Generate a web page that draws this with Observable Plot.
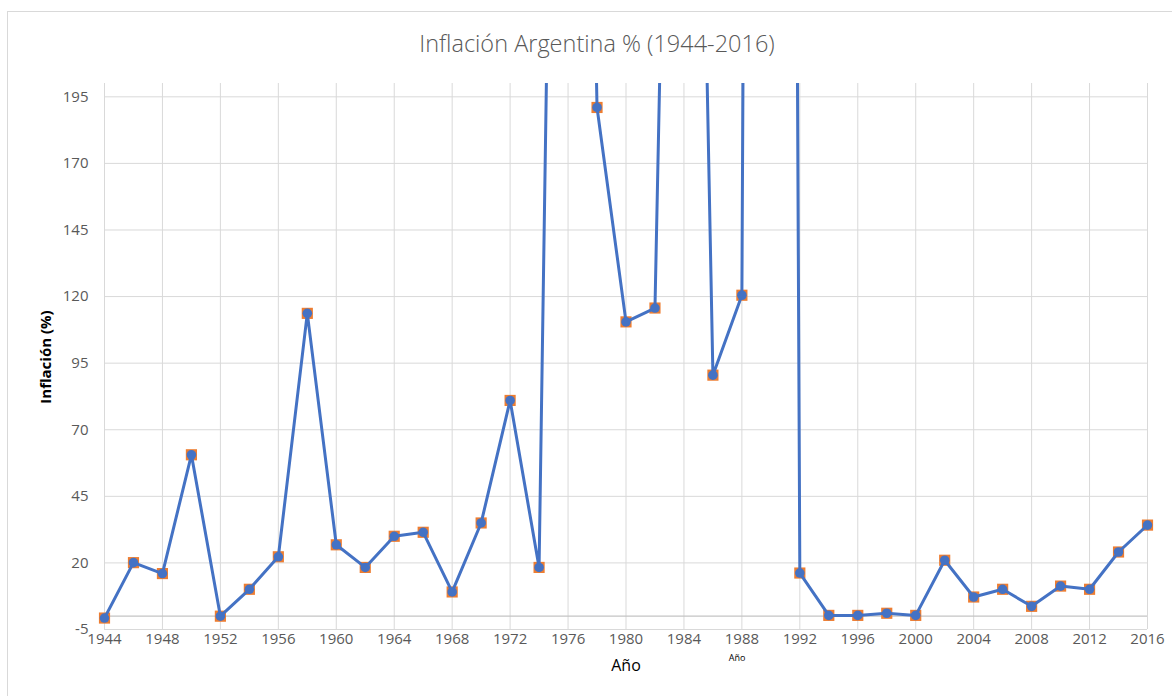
<!DOCTYPE html>
<html>
<head>
<meta charset="utf-8">
<script src="https://cdn.jsdelivr.net/npm/d3@7"></script>
<script src="https://cdn.jsdelivr.net/npm/@observablehq/plot@0.6"></script>
<style>
  html, body { margin: 0; padding: 0; background: #fff; }
  #wrap { position: relative; width: 1172px; height: 696px; overflow: hidden; font-family: "Open Sans", sans-serif; }
  #frame { position: absolute; left: 7px; top: 11px; width: 1200px; height: 720px; border: 1px solid #d9d9d9; box-sizing: border-box; }
  #chart { position: absolute; left: 0; top: 0; }
  .lbl { position: absolute; white-space: nowrap; transform: translate(-50%, -50%); }
  #title { left: 597px; top: 43px; font-size: 23.5px; font-weight: 300; color: #595959; }
  #ylab { left: 45px; top: 357px; font-size: 15px; font-weight: bold; color: #000; transform: translate(-50%, -50%) rotate(-90deg); }
  #xlab { left: 626px; top: 665px; font-size: 16px; color: #000; }
  #xlab2 { left: 737px; top: 657px; font-size: 9px; color: #000; }
</style>
</head>
<body>
<div id="wrap">
  <div id="frame"></div>
  <div id="chart"></div>
  <div class="lbl" id="title">Inflación Argentina % (1944-2016)</div>
  <div class="lbl" id="ylab">Inflación (%)</div>
  <div class="lbl" id="xlab">Año</div>
  <div class="lbl" id="xlab2">Año</div>
</div>
<script>
const years = [1944, 1946, 1948, 1950, 1952, 1954, 1956, 1958, 1960, 1962, 1964, 1966, 1968, 1970, 1972, 1974, 1976, 1978, 1980, 1982, 1984, 1986, 1988, 1990, 1992, 1994, 1996, 1998, 2000, 2002, 2004, 2006, 2008, 2010, 2012, 2014, 2016];
const inflation = [-0.7, 20.1, 16.0, 60.6, 0, 10.1, 22.3, 113.7, 26.8, 18.3, 30.0, 31.5, 9.1, 35.0, 81.0, 18.3, 740, 191, 110.5, 115.7, 645, 90.5, 120.5, 2300, 16.2, 0.3, 0.3, 1.1, 0.3, 21.0, 7.2, 10.1, 3.7, 11.3, 10.1, 24.1, 34.2];
const xTicks = [1944, 1948, 1952, 1956, 1960, 1964, 1968, 1972, 1976, 1980, 1984, 1988, 1992, 1996, 2000, 2004, 2008, 2012, 2016];
const yTicks = [-5, 20, 45, 70, 95, 120, 145, 170, 195];
const yMin = -5, yMax = 200;

const data = years.map((year, i) => ({year, value: inflation[i]}));
const visible = data.filter(d => d.value <= yMax);

const chart = Plot.plot({
  width: 1172,
  height: 696,
  marginLeft: 104,
  marginRight: 25,
  marginTop: 83,
  marginBottom: 67,
  style: {fontFamily: "'Open Sans', sans-serif", fontSize: "15px", color: "#595959", background: "transparent", overflow: "visible"},
  x: {domain: [1944, 2016], axis: null},
  y: {domain: [yMin, yMax], axis: null},
  marks: [
    Plot.ruleY(yTicks, {stroke: "#d9d9d9", strokeWidth: 1}),
    Plot.ruleX(xTicks, {stroke: "#d9d9d9", strokeWidth: 1}),
    Plot.ruleY([0], {stroke: "#c4c4c4", strokeWidth: 1.3}),
    Plot.axisX({ticks: xTicks, tickSize: 0, tickPadding: 4, tickFormat: d => String(d), label: null}),
    Plot.axisY({ticks: yTicks, tickSize: 0, tickPadding: 16, tickFormat: d => String(d), label: null}),
    Plot.dot(visible, {x: "year", y: "value", symbol: "square", r: 6.3, fill: "#ED7D31", stroke: "none"}),
    Plot.line(data, {x: "year", y: "value", stroke: "#4472C4", strokeWidth: 3, clip: true}),
    Plot.dot(visible, {x: "year", y: "value", r: 4.8, fill: "#4472C4", stroke: "none"})
  ]
});
document.getElementById("chart").appendChild(chart);
</script>
</body>
</html>
